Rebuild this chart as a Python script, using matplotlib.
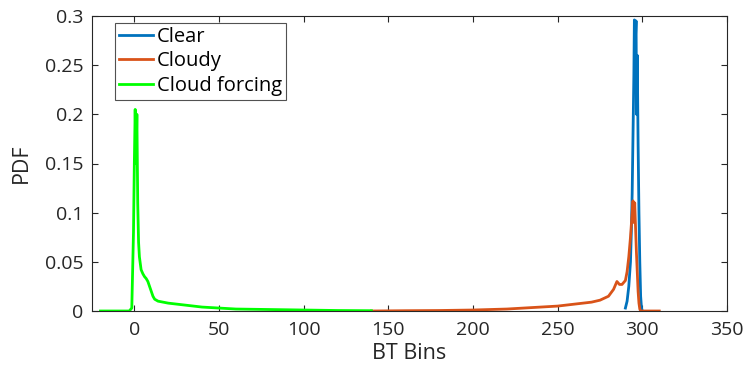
import matplotlib.pyplot as plt
import numpy as np

# BT bin centres and PDF values for each sky condition
clear_bins = [290, 291, 292, 293, 293.5, 294, 294.5, 295, 295.3, 295.6, 296, 296.3,
              296.6, 297, 297.5, 298, 298.5, 299, 299.5, 300]
clear_pdf = [0.003, 0.01, 0.025, 0.05, 0.08, 0.12, 0.18, 0.24, 0.296, 0.25, 0.28, 0.295,
             0.2, 0.26, 0.17, 0.1, 0.05, 0.015, 0.003, 0.0]

cloudy_bins = [140, 160, 180, 200, 210, 220, 230, 240, 250, 260, 270, 275, 280, 283, 285,
               286.5, 288, 290, 291, 292, 293, 294, 294.5, 295, 295.5, 296, 296.5, 297,
               297.5, 298, 298.5, 299, 300, 305, 310]
cloudy_pdf = [0.0, 0.0003, 0.0005, 0.001, 0.0015, 0.002, 0.003, 0.004, 0.005, 0.007, 0.009,
              0.011, 0.015, 0.022, 0.03, 0.027, 0.027, 0.031, 0.04, 0.055, 0.075, 0.1, 0.112,
              0.09, 0.11, 0.085, 0.06, 0.04, 0.02, 0.008, 0.002, 0.0, 0.0, 0.0, 0.0]

forcing_bins = [-20, -3, -1.5, -0.5, 0, 0.5, 1, 1.5, 2, 2.5, 3, 4, 5, 6, 7, 8, 9, 10, 11,
                12, 14, 17, 20, 25, 30, 40, 50, 60, 80, 100, 120, 140]
forcing_pdf = [0.0, 0.0, 0.003, 0.08, 0.15, 0.205, 0.15, 0.2, 0.11, 0.07, 0.055, 0.042,
               0.038, 0.035, 0.033, 0.03, 0.025, 0.02, 0.015, 0.012, 0.01, 0.009, 0.008,
               0.007, 0.006, 0.004, 0.003, 0.002, 0.0015, 0.001, 0.0005, 0.0003]

plt.rcParams['font.family'] = ['Open Sans', 'DejaVu Sans']

fig = plt.figure(figsize=(7.48, 3.70), dpi=100)
ax = fig.add_axes([92 / 748, 1 - 311 / 370, (727 - 92) / 748, (311 - 16) / 370])

ax.plot(clear_bins, clear_pdf, color='#0072BD', lw=2, label='Clear')
ax.plot(cloudy_bins, cloudy_pdf, color='#D95319', lw=2, label='Cloudy')
ax.plot(forcing_bins, forcing_pdf, color='#00FF00', lw=2, label='Cloud forcing')

ax.set_xlim(-25, 350)
ax.set_ylim(0, 0.3)
ax.set_xticks(np.arange(0, 351, 50))
ax.set_yticks([0, 0.05, 0.1, 0.15, 0.2, 0.25, 0.3])
ax.set_yticklabels(['0', '0.05', '0.1', '0.15', '0.2', '0.25', '0.3'])
ax.tick_params(direction='in', top=True, right=True, length=4, labelsize=14,
               colors='#262626')
ax.tick_params(axis='x', pad=7)
ax.tick_params(axis='y', pad=6)
for s in ax.spines.values():
    s.set_color('#262626')
    s.set_linewidth(0.8)

ax.set_xlabel('BT Bins', fontsize=15.5, color='#262626', labelpad=3)
ax.set_ylabel('PDF', fontsize=15.5, color='#262626')
ax.yaxis.set_label_coords(-0.095, 0.5)

leg = ax.legend(loc='upper left', bbox_to_anchor=(0.036, 0.977), fontsize=14.5,
                frameon=True, fancybox=False, handlelength=1.7, handletextpad=0.2,
                borderpad=0.2, labelspacing=0.22, borderaxespad=0)
leg.get_frame().set_edgecolor('#262626')
leg.get_frame().set_linewidth(0.8)

fig.savefig('out.png', dpi=100)
